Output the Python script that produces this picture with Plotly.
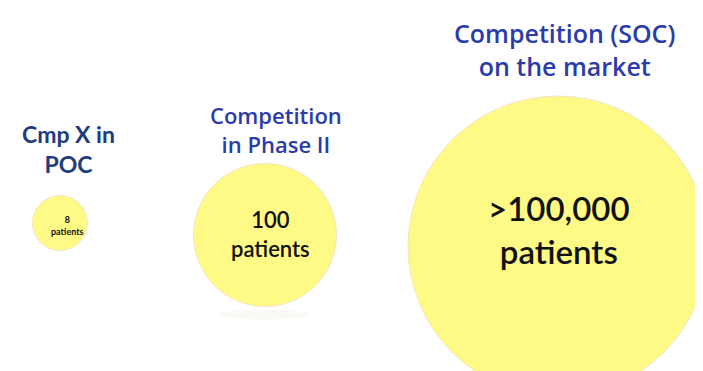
import plotly.graph_objects as go

# data
stages = ["Cmp X in<br>POC", "Competition<br>in Phase II", "Competition (SOC)<br>on the market"]
patients = ["8", "100", ">100,000"]

# layout / style (pixel space of a 703x371 canvas)
cx = [52, 257, 550]
cy = [215, 227, 238]
diam = [55, 143, 300]
title_x = [60, 268, 556]
title_y = [141, 121, 41]
title_size = [23, 22, 25]
title_color = ["#203c7c", "#2b3ca8", "#2b3ca8"]
title_font = ["Lato", "Open Sans", "Open Sans"]
num_x = [59, 262, 551]
num_y = [217, 226, 221]
num_size = [9, 22, 33]

W, H = 703, 371

fig = go.Figure()

# faint reflection under the middle bubble
fig.add_shape(type="circle", x0=cx[1] - 45, x1=cx[1] + 45,
              y0=cy[1] + diam[1] / 2 + 3, y1=cy[1] + diam[1] / 2 + 13,
              line=dict(width=0), fillcolor="rgba(238,234,215,0.3)", layer="below")

fig.add_trace(go.Scatter(
    x=cx, y=cy, mode="markers",
    marker=dict(size=diam, color="#fffa85", opacity=1,
                line=dict(color="#f0e6c8", width=1)),
    hoverinfo="skip", showlegend=False,
))

for i, s in enumerate(stages):
    fig.add_annotation(x=title_x[i], y=title_y[i], text=s,
                       showarrow=False, xanchor="center", yanchor="middle",
                       font=dict(size=title_size[i], color=title_color[i], family=title_font[i],
                                 weight=700 if i == 0 else 600),
                       align="center")
    txt = patients[i] + "<br>patients"
    fig.add_annotation(x=num_x[i], y=num_y[i], text=txt,
                       showarrow=False, xanchor="center", yanchor="middle",
                       font=dict(size=num_size[i], color="#111111", family="Lato",
                                 weight=700 if i == 0 else 600),
                       align="center")

fig.update_xaxes(range=[0, W], visible=False, fixedrange=True)
fig.update_yaxes(range=[H, 0], visible=False, fixedrange=True)
fig.update_layout(width=W, height=H, margin=dict(l=0, r=0, t=0, b=0),
                  plot_bgcolor="white", paper_bgcolor="white")

fig.write_html("out.html")
